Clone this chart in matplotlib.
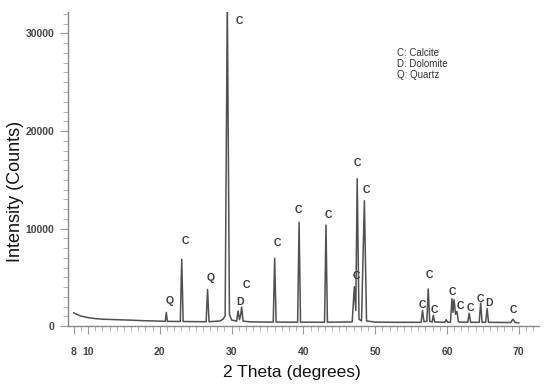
import matplotlib.pyplot as plt
from matplotlib.ticker import MultipleLocator, FixedLocator

plt.rcParams['font.family'] = ['Liberation Sans', 'DejaVu Sans']

# diffraction pattern: 2 theta (deg) and counts
two_theta = [8.0, 8.5, 9.0, 10.0, 11.0, 12.0, 14.0, 16.0, 18.0, 20.0, 20.75,
             20.9, 21.05, 22.85, 23.05, 23.25, 26.45, 26.65, 26.85,
             28.4, 28.8, 29.1, 29.4, 29.7, 30.0, 30.7, 30.9, 31.1, 31.25,
             31.4, 31.6, 32.5, 34.0, 35.8, 36.0, 36.2, 39.2, 39.4, 39.6,
             42.95, 43.15, 43.35, 46.8, 47.1, 47.3, 47.5, 47.75, 48.1,
             48.5, 48.8, 50.0, 53.0, 56.4, 56.6, 56.8, 57.2, 57.4, 57.6,
             57.95, 58.1, 58.3, 59.7, 59.9, 60.1, 60.5, 60.7, 60.85, 61.0,
             61.2, 61.4, 61.6, 62.9, 63.1, 63.3, 64.5, 64.7, 64.9, 65.4,
             65.6, 65.8, 68.9, 69.2, 69.5, 70.0]
intensity = [1350, 1180, 1020, 860, 760, 700, 650, 600, 540, 500, 480,
             1400, 480, 460, 6850, 460, 440, 3750, 440,
             520, 700, 1050, 33500, 1200, 620, 500, 1550, 650, 1100,
             1950, 500, 430, 410, 400, 6950, 400, 390, 10650, 390,
             390, 10350, 390, 420, 4030, 1600, 15100, 700, 520,
             12850, 520, 400, 380, 380, 1600, 450, 480, 3800, 480,
             420, 1100, 420, 380, 650, 380, 400, 2800, 1400, 2700,
             1200, 1500, 420, 380, 1300, 380, 380, 2350, 380, 380,
             1800, 380, 360, 700, 360, 330]

# phase labels: text, 2 theta, counts
label_text = ['Q', 'C', 'Q', 'C', 'D', 'C', 'C', 'C', 'C', 'C', 'C', 'C',
              'C', 'C', 'C', 'C', 'C', 'C', 'C', 'D', 'C']
label_x = [21.4, 23.5, 27.1, 31.1, 31.2, 32.0, 36.4, 39.3, 43.5, 47.35, 47.5,
           48.75, 56.6, 57.5, 58.3, 60.7, 61.8, 63.2, 64.7, 65.8, 69.3]
label_y = [2560, 8700, 4900, 31300, 2460, 4200, 8500, 11900, 11400, 5130,
           16700, 13950, 2150, 5230, 1640, 3500, 2050, 1850, 2770, 2360, 1640]

legend_lines = ['C: Calcite', 'D: Dolomite', 'Q: Quartz']

fig = plt.figure(figsize=(5.5, 3.91), dpi=100)
ax = fig.add_axes([0.1236, 0.1662, 0.856, 0.803])

ax.plot(two_theta, intensity, color='#505050', lw=1.1)

for t, x, y in zip(label_text, label_x, label_y):
    ax.text(x, y, t, ha='center', va='center', fontsize=7.5,
            color='#3a3a3a', fontweight='bold')

for i, s in enumerate(legend_lines):
    ax.text(53.0, 28000 - i * 1150, s, ha='left', va='center',
            fontsize=7, color='#333333')

ax.set_xlim(7.2, 72.8)
ax.set_ylim(0, 32200)

ax.xaxis.set_major_locator(FixedLocator([8, 10, 20, 30, 40, 50, 60, 70]))
ax.xaxis.set_minor_locator(MultipleLocator(1))
ax.yaxis.set_major_locator(FixedLocator([0, 10000, 20000, 30000]))
ax.yaxis.set_minor_locator(MultipleLocator(1000))

for side in ['top', 'right']:
    ax.spines[side].set_visible(False)
for side in ['left', 'bottom']:
    ax.spines[side].set_color('#888888')
    ax.spines[side].set_linewidth(1.0)

ax.tick_params(which='major', direction='out', length=6, width=0.8,
               color='#999999', labelsize=7.5, labelcolor='#444444', pad=9)
ax.tick_params(which='minor', direction='out', length=3.5, width=0.6,
               color='#aaaaaa')
ax.tick_params(axis='y', which='major', pad=4)
for lab in ax.get_xticklabels() + ax.get_yticklabels():
    lab.set_fontweight('bold')

ax.set_xlabel('2 Theta (degrees)', fontsize=12.5, color='#111111')
ax.set_ylabel('Intensity (Counts)', fontsize=13, color='#111111')
ax.xaxis.set_label_coords(0.476, -0.124)
ax.yaxis.set_label_coords(-0.094, 0.43)

fig.savefig('out.png', dpi=100)
